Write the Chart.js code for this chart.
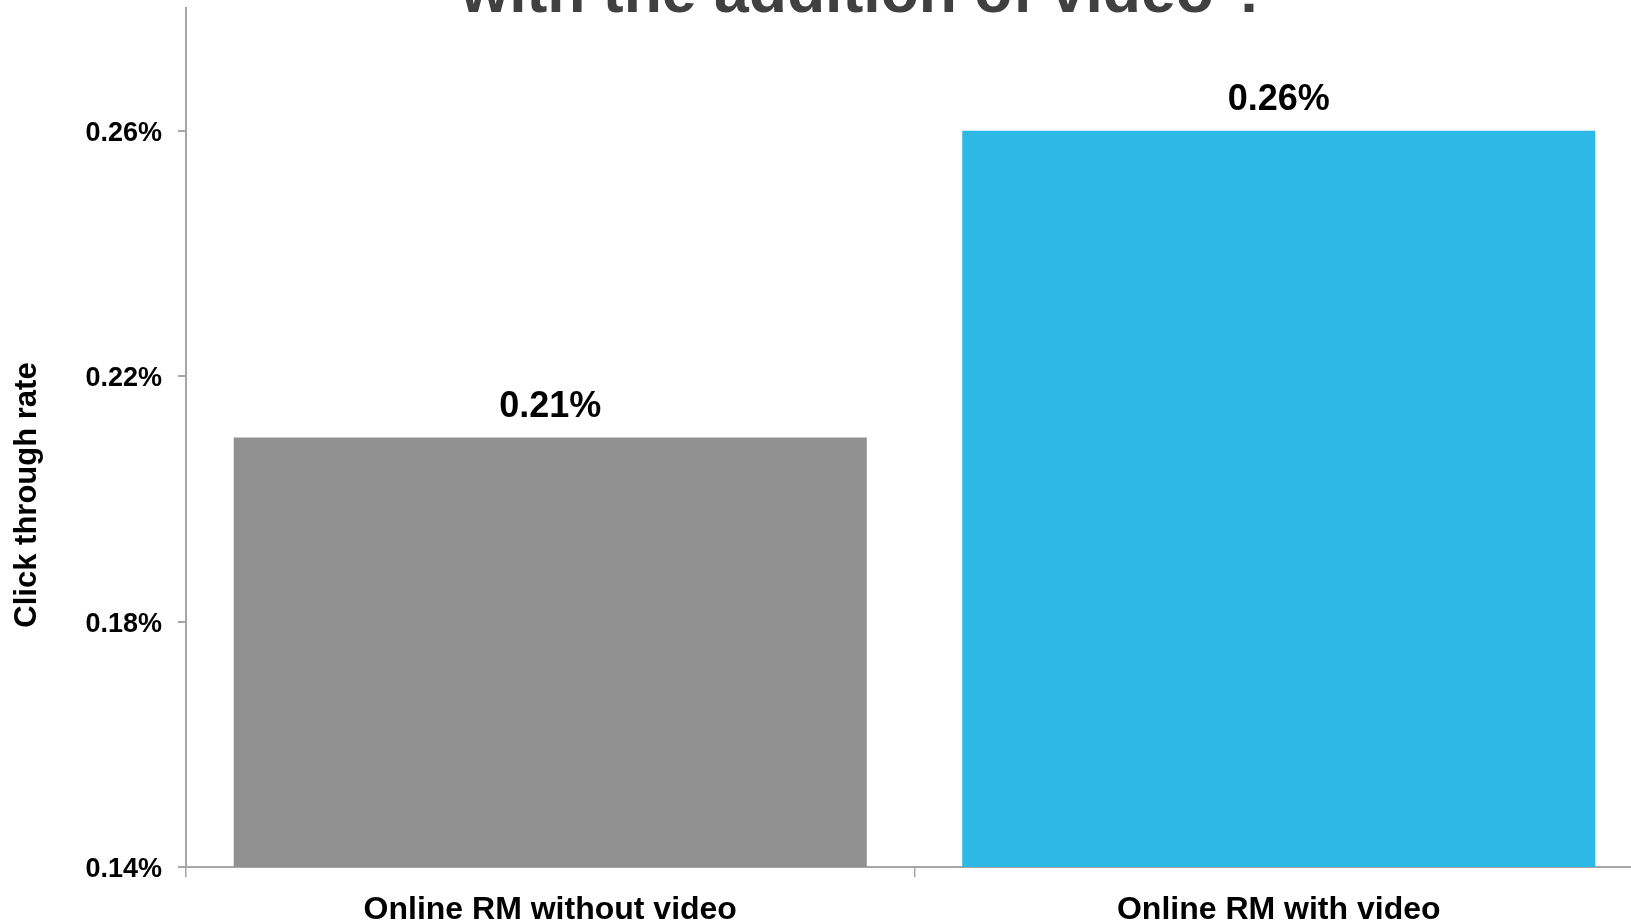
<!DOCTYPE html>
<html>
<head>
<meta charset="utf-8">
<script src="https://cdn.jsdelivr.net/npm/chart.js@4/dist/chart.umd.min.js"></script>
<style>
  html, body { margin: 0; padding: 0; background: #fff; overflow: hidden; }
  #wrap { position: relative; width: 1643px; height: 923px; }
</style>
</head>
<body>
<div id="wrap"><canvas id="ctr"></canvas></div>
<script>
// values (click through rate, in %)
const categories = ['Online RM without video', 'Online RM with video'];
const ctrValues = [0.21, 0.26];
const barColors = ['#919191', '#2db8e6'];
const yTicks = [0.14, 0.18, 0.22, 0.26];
const titleText = 'with the addition of video ?';
const yTitle = 'Click through rate';

const FONT = '"Liberation Sans", Arial, sans-serif';
const AXIS_GRAY = '#a6a6a6';

const pct = v => v.toFixed(2) + '%';

// the title sits mostly above the page edge, only its lower half shows
const titlePlugin = {
  id: 'cutTitle',
  afterDraw(chart) {
    const ctx = chart.ctx;
    ctx.save();
    ctx.font = 'bold 62.5px ' + FONT;
    ctx.fillStyle = '#404040';
    ctx.textAlign = 'center';
    ctx.textBaseline = 'alphabetic';
    ctx.fillText(titleText, 865, 12);
    ctx.restore();
  }
};

const yTitlePlugin = {
  id: 'yTitle',
  afterDraw(chart) {
    const ctx = chart.ctx;
    ctx.save();
    ctx.translate(27, 495);
    ctx.rotate(-Math.PI / 2);
    ctx.font = 'bold 31px ' + FONT;
    ctx.fillStyle = '#000';
    ctx.textAlign = 'center';
    ctx.textBaseline = 'middle';
    ctx.fillText(yTitle, 0, 0);
    ctx.restore();
  }
};

const valueLabels = {
  id: 'valueLabels',
  afterDatasetsDraw(chart) {
    const ctx = chart.ctx;
    const meta = chart.getDatasetMeta(0);
    ctx.save();
    ctx.font = 'bold 36px ' + FONT;
    ctx.fillStyle = '#000';
    ctx.textAlign = 'center';
    ctx.textBaseline = 'alphabetic';
    meta.data.forEach((bar, i) => {
      ctx.fillText(pct(ctrValues[i]), bar.x, bar.y - 21);
    });
    ctx.restore();
  }
};

new Chart(document.getElementById('ctr'), {
  type: 'bar',
  data: {
    labels: categories,
    datasets: [{
      data: ctrValues,
      backgroundColor: barColors,
      borderWidth: 0,
      categoryPercentage: 1,
      barPercentage: 0.869
    }]
  },
  options: {
    responsive: true,
    maintainAspectRatio: false,
    animation: false,
    layout: { padding: { top: 8, left: 0, right: 0, bottom: 0 } },
    plugins: {
      legend: { display: false },
      title: { display: false },
      tooltip: { enabled: false }
    },
    scales: {
      x: {
        offset: true,
        grid: {
          offset: true,
          drawOnChartArea: false,
          tickLength: 10,
          color: AXIS_GRAY,
          lineWidth: 1.5
        },
        border: { color: AXIS_GRAY, width: 2 },
        ticks: {
          color: '#000',
          font: { family: FONT, size: 32, weight: 'bold' },
          padding: 14,
          maxRotation: 0
        },
        afterFit(s) {
          s.height = 56;
          s.paddingLeft = 0;
          s.paddingRight = 0;
        }
      },
      y: {
        min: 0.14,
        max: 0.28,
        afterBuildTicks(s) {
          s.ticks = yTicks.map(v => ({ value: v }));
        },
        grid: {
          drawOnChartArea: false,
          tickLength: 8,
          color: AXIS_GRAY,
          lineWidth: 2
        },
        border: { color: AXIS_GRAY, width: 2 },
        ticks: {
          color: '#000',
          font: { family: FONT, size: 27, weight: 'bold' },
          padding: 16,
          labelOffset: 2.5,
          callback: v => pct(v)
        },
        afterFit(s) {
          s.width = 186;
          s.paddingTop = 0;
          s.paddingBottom = 0;
        }
      }
    }
  },
  plugins: [titlePlugin, yTitlePlugin, valueLabels]
});
</script>
</body>
</html>
